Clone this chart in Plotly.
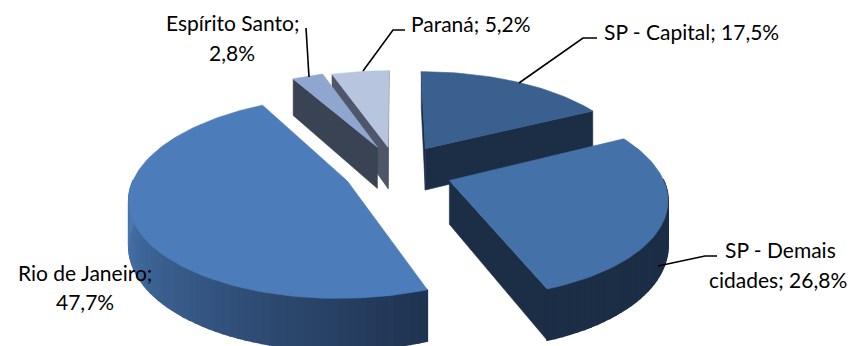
import math
import plotly.graph_objects as go

# Share of each region, clockwise from twelve o'clock
categories = ["SP - Capital", "SP - Demais cidades", "Rio de Janeiro", "Espírito Santo", "Paraná"]
shares = [17.5, 26.8, 47.7, 2.8, 5.2]

# Slice styling: pull-out distance and bearing (degrees clockwise from twelve o'clock)
explode = [0.285, 0.272, 0.245, 0.274, 0.26]
explode_dir = [31.5, 111.2, 245.1, 341.5, 352.5]
top_colors = ["#3a608f", "#4471a8", "#4c7cb9", "#8fa6cf", "#b7c5df"]
cut_colors = ["#1c2e46", "#1c2e46", "#1f3350", "#3a4353", "#50566a"]
rim_light = ["#1c2e46", "#1c2e46", "#4a79b4", "#3a4353", "#50566a"]
rim_dark = ["#1c2e46", "#1c2e46", "#1f3350", "#3a4353", "#50566a"]
draw_order = [4, 3, 0, 2, 1]

# Perspective projection of the tilted disc onto pixel space
CX, CY = 395, 171
RADIUS, TILT, PERSP, THICK = 211, 95.5, 0.157, 43


def project(x, y, z=0.0):
    w = 1 / (1 - PERSP * y)
    return CX + RADIUS * x * w, CY + TILT * y * w + THICK * z * w


def hex_mix(a, b, t):
    ca = [int(a[i:i + 2], 16) for i in (1, 3, 5)]
    cb = [int(b[i:i + 2], 16) for i in (1, 3, 5)]
    return "rgb({},{},{})".format(*[round(p + (q - p) * t) for p, q in zip(ca, cb)])


def poly(points, color, width=0.6):
    xs = [p[0] for p in points] + [points[0][0]]
    ys = [p[1] for p in points] + [points[0][1]]
    return go.Scatter(x=xs, y=ys, mode="lines", fill="toself", fillcolor=color,
                      line=dict(color=color, width=width), hoverinfo="skip", showlegend=False)


def area(points):
    total = 0.0
    for (a, b), (c, d) in zip(points, points[1:] + points[:1]):
        total += a * d - c * b
    return total


fig = go.Figure()

# Slice angle limits come from the cumulative shares
total = sum(shares)
edges = [0.0]
for s in shares:
    edges.append(edges[-1] + s / total * 2 * math.pi)

for i in draw_order:
    t0, t1 = edges[i], edges[i + 1]
    bearing = math.radians(explode_dir[i])
    ox, oy = explode[i] * math.sin(bearing), -explode[i] * math.cos(bearing)

    def rim(t, z=0.0):
        return project(ox + math.sin(t), oy - math.cos(t), z)

    apex = project(ox, oy)
    apex_low = project(ox, oy, 1)

    # Cut faces: keep those turned towards the viewer
    first = [apex, rim(t0), rim(t0, 1), apex_low]
    if area(first) < 0:
        fig.add_trace(poly(first, cut_colors[i]))
    second = [apex, rim(t1), rim(t1, 1), apex_low]
    if area(second) > 0:
        fig.add_trace(poly(second, cut_colors[i]))

    # Outer wall, split into strips for the shading
    steps = max(4, int((t1 - t0) / math.radians(2)))
    for k in range(steps):
        a = t0 + (t1 - t0) * k / steps
        b = t0 + (t1 - t0) * (k + 1) / steps
        c = (a + b) / 2
        if math.cos(c) > 0:
            continue
        shade = min(1.0, (c - t0) / math.radians(110))
        fig.add_trace(poly([rim(a), rim(b), rim(b, 1), rim(a, 1)],
                           hex_mix(rim_dark[i], rim_light[i], shade), width=1.6))

    # Top face
    n = max(6, int((t1 - t0) / math.radians(1.5)))
    top = [apex] + [rim(t0 + (t1 - t0) * k / n) for k in range(n + 1)]
    fig.add_trace(poly(top, top_colors[i]))

# Leader lines between labels and slices
leaders = [
    ([306, 309], [28, 77]),
    ([405, 393, 363], [30, 30, 71]),
    ([597, 583, 519], [38, 38, 83]),
    ([717, 705, 658], [256, 256, 266]),
]
for lx, ly in leaders:
    fig.add_trace(go.Scatter(x=lx, y=ly, mode="lines", line=dict(color="#000000", width=1.6),
                             hoverinfo="skip", showlegend=False))


def pct(i):
    return f"{shares[i]:.1f}%".replace(".", ",")


labels = [
    (232, 22, f"{categories[3]};"),
    (232, 52, pct(3)),
    (471, 23, f"{categories[4]}; {pct(4)}"),
    (691, 31, f"{categories[0]}; {pct(0)}"),
    (780, 249, "SP - Demais"),
    (778, 279, f"cidades; {pct(1)}"),
    (85, 272, f"{categories[2]};"),
    (85, 301, pct(2)),
]
for lx, ly, text in labels:
    fig.add_annotation(x=lx, y=ly, text=text, showarrow=False, xanchor="center", yanchor="middle",
                       font=dict(family="Lato, Carlito, sans-serif", size=21, color="#000000"))

fig.update_layout(
    width=851, height=346, margin=dict(l=0, r=0, t=0, b=0),
    paper_bgcolor="#ffffff", plot_bgcolor="#ffffff", showlegend=False,
    xaxis=dict(range=[0, 851], visible=False, fixedrange=True),
    yaxis=dict(range=[346, 0], visible=False, fixedrange=True),
)
fig.write_html("out.html", config={"displayModeBar": False})
